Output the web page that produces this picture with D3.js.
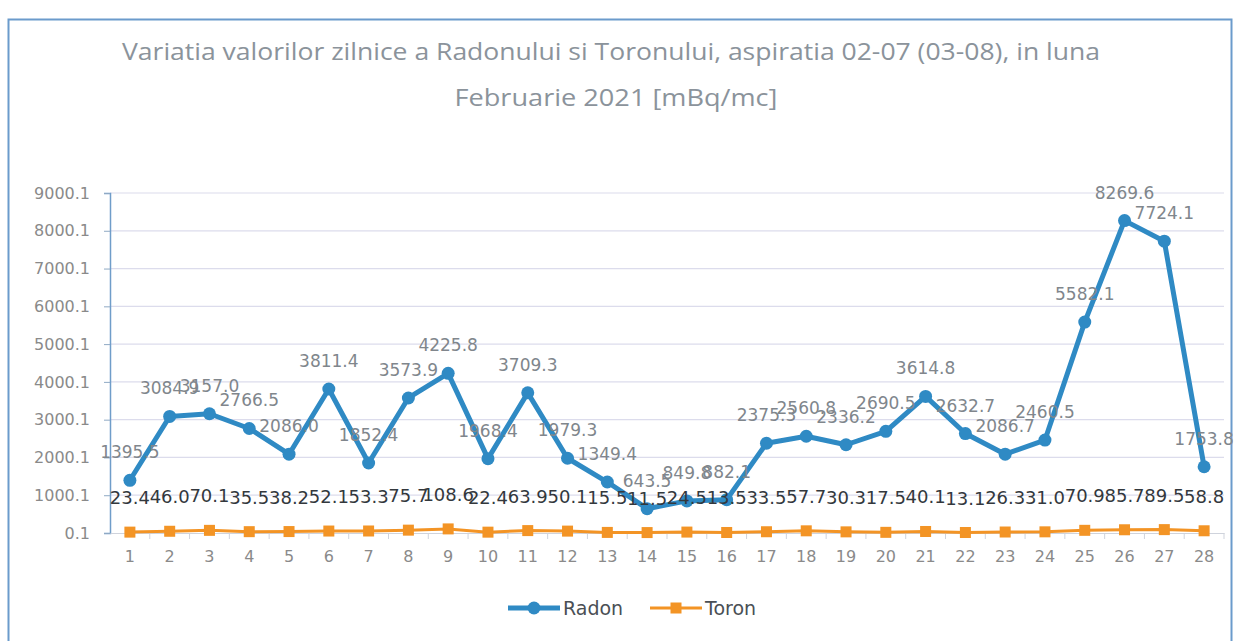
<!DOCTYPE html>
<html>
<head>
<meta charset="utf-8">
<script src="https://cdn.jsdelivr.net/npm/d3@7"></script>
<style>
  body { margin: 0; background: #fff; }
  svg { display: block; }
</style>
</head>
<body>
<svg id="chart" width="1243" height="641"></svg>
<script>
const days = d3.range(1, 29).map(String);
const radon = [1395.5, 3084.9, 3157.0, 2766.5, 2086.0, 3811.4, 1852.4, 3573.9, 4225.8, 1968.4,
  3709.3, 1979.3, 1349.4, 643.5, 849.8, 882.1, 2375.3, 2560.8, 2336.2, 2690.5,
  3614.8, 2632.7, 2086.7, 2460.5, 5582.1, 8269.6, 7724.1, 1753.8];
const toron = [23.4, 46.0, 70.1, 35.5, 38.2, 52.1, 53.3, 75.7, 108.6, 22.4,
  63.9, 50.1, 15.5, 11.5, 24.5, 13.5, 33.5, 57.7, 30.3, 17.5,
  40.1, 13.1, 26.3, 31.0, 70.9, 85.7, 89.5, 58.8];
const yTicks = [0.1, 1000.1, 2000.1, 3000.1, 4000.1, 5000.1, 6000.1, 7000.1, 8000.1, 9000.1];
const titleLines = [
  "Variatia valorilor zilnice a Radonului si Toronului, aspiratia 02-07 (03-08),  in luna",
  "Februarie 2021 [mBq/mc]"
];

const radonColor = "#2f8ac4";
const toronColor = "#f39425";
const font = "'DejaVu Sans', sans-serif";

const svg = d3.select("#chart");

// chart frame
svg.append("rect")
  .attr("x", 8.5).attr("y", 19.5)
  .attr("width", 1223).attr("height", 640)
  .attr("fill", "none")
  .attr("stroke", "#6b9bcc")
  .attr("stroke-width", 2);

// title
svg.selectAll(".title")
  .data(titleLines)
  .enter().append("text")
  .attr("class", "title")
  .attr("x", (d, i) => i === 0 ? 611 : 616)
  .attr("y", (d, i) => i === 0 ? 60 : 106)
  .attr("text-anchor", "middle")
  .attr("textLength", (d, i) => i === 0 ? 978 : 323)
  .attr("lengthAdjust", "spacingAndGlyphs")
  .attr("font-family", "'Open Sans', sans-serif")
  .attr("font-size", 23)
  .attr("fill", "#8b939b")
  .text(d => d);

const x = d3.scaleBand().domain(days).range([110, 1224]).padding(0);
const y = d3.scaleLinear().domain([0.1, 9000.1]).range([533, 193]);
const cx = d => x(d) + x.bandwidth() / 2;

// gridlines
svg.append("g")
  .selectAll("line")
  .data(yTicks.slice(1))
  .enter().append("line")
  .attr("x1", 110).attr("x2", 1224)
  .attr("y1", d => y(d)).attr("y2", d => y(d))
  .attr("stroke", "#dcdcec")
  .attr("stroke-width", 1.2);

// y axis
const yAxis = svg.append("g")
  .attr("transform", "translate(110,0)")
  .call(d3.axisLeft(y).tickValues(yTicks).tickFormat(d3.format(".1f")).tickSize(6).tickPadding(14));
yAxis.select(".domain").attr("stroke", "#6f9dc9").attr("stroke-width", 1.5);
yAxis.selectAll(".tick line").attr("stroke", "#8fa9c4");
yAxis.selectAll("text")
  .attr("font-family", font)
  .attr("font-size", 16)
  .attr("fill", "#8a8a8a");

// x axis
const xAxis = svg.append("g")
  .attr("transform", "translate(0,533)")
  .call(d3.axisBottom(x).tickSize(0).tickPadding(18));
xAxis.select(".domain").attr("stroke", "#cfd3dc").attr("stroke-width", 1.2);
xAxis.selectAll("text")
  .attr("font-family", font)
  .attr("font-size", 16)
  .attr("fill", "#8a8a8a");
svg.append("g")
  .selectAll("line")
  .data(days)
  .enter().append("line")
  .attr("x1", d => x(d) + x.bandwidth()).attr("x2", d => x(d) + x.bandwidth())
  .attr("y1", 533).attr("y2", 539)
  .attr("stroke", "#cfd3dc");

const line = d3.line().x((d, i) => cx(days[i])).y(d => y(d));

// Toron series
svg.append("path")
  .datum(toron)
  .attr("d", line)
  .attr("fill", "none")
  .attr("stroke", toronColor)
  .attr("stroke-width", 3);
svg.append("g")
  .selectAll("rect")
  .data(toron)
  .enter().append("rect")
  .attr("x", (d, i) => cx(days[i]) - 5.5)
  .attr("y", d => y(d) - 5.5)
  .attr("width", 11).attr("height", 11)
  .attr("fill", toronColor);

// Radon series
svg.append("path")
  .datum(radon)
  .attr("d", line)
  .attr("fill", "none")
  .attr("stroke", radonColor)
  .attr("stroke-width", 5)
  .attr("stroke-linejoin", "round");
svg.append("g")
  .selectAll("circle")
  .data(radon)
  .enter().append("circle")
  .attr("cx", (d, i) => cx(days[i]))
  .attr("cy", d => y(d))
  .attr("r", 6.5)
  .attr("fill", radonColor);

// data labels (they overlap in the original too)
svg.append("g")
  .selectAll("text")
  .data(radon)
  .enter().append("text")
  .attr("x", (d, i) => cx(days[i]))
  .attr("y", d => y(d) - 22)
  .attr("text-anchor", "middle")
  .attr("font-family", font)
  .attr("font-size", 17)
  .attr("fill", "#80868c")
  .text(d => d.toFixed(1));

svg.append("g")
  .selectAll("text")
  .data(toron)
  .enter().append("text")
  .attr("x", (d, i) => cx(days[i]))
  .attr("y", d => y(d) - 28)
  .attr("text-anchor", "middle")
  .attr("font-family", font)
  .attr("font-size", 18)
  .attr("fill", "#33383d")
  .text(d => d.toFixed(1));

// legend
const legend = [
  { name: "Radon", color: radonColor, x: 508, shape: "circle" },
  { name: "Toron", color: toronColor, x: 650, shape: "rect" }
];
const lg = svg.append("g").selectAll("g")
  .data(legend)
  .enter().append("g")
  .attr("transform", d => `translate(${d.x},608)`);
lg.append("line")
  .attr("x1", 0).attr("x2", 52)
  .attr("stroke", d => d.color)
  .attr("stroke-width", d => d.shape === "circle" ? 5 : 3);
lg.filter(d => d.shape === "circle").append("circle")
  .attr("cx", 26).attr("r", 6.5).attr("fill", d => d.color);
lg.filter(d => d.shape === "rect").append("rect")
  .attr("x", 20.5).attr("y", -5.5).attr("width", 11).attr("height", 11).attr("fill", d => d.color);
lg.append("text")
  .attr("x", 55).attr("y", 7)
  .attr("font-family", font)
  .attr("font-size", 19)
  .attr("fill", "#4a4f55")
  .text(d => d.name);
</script>
</body>
</html>
